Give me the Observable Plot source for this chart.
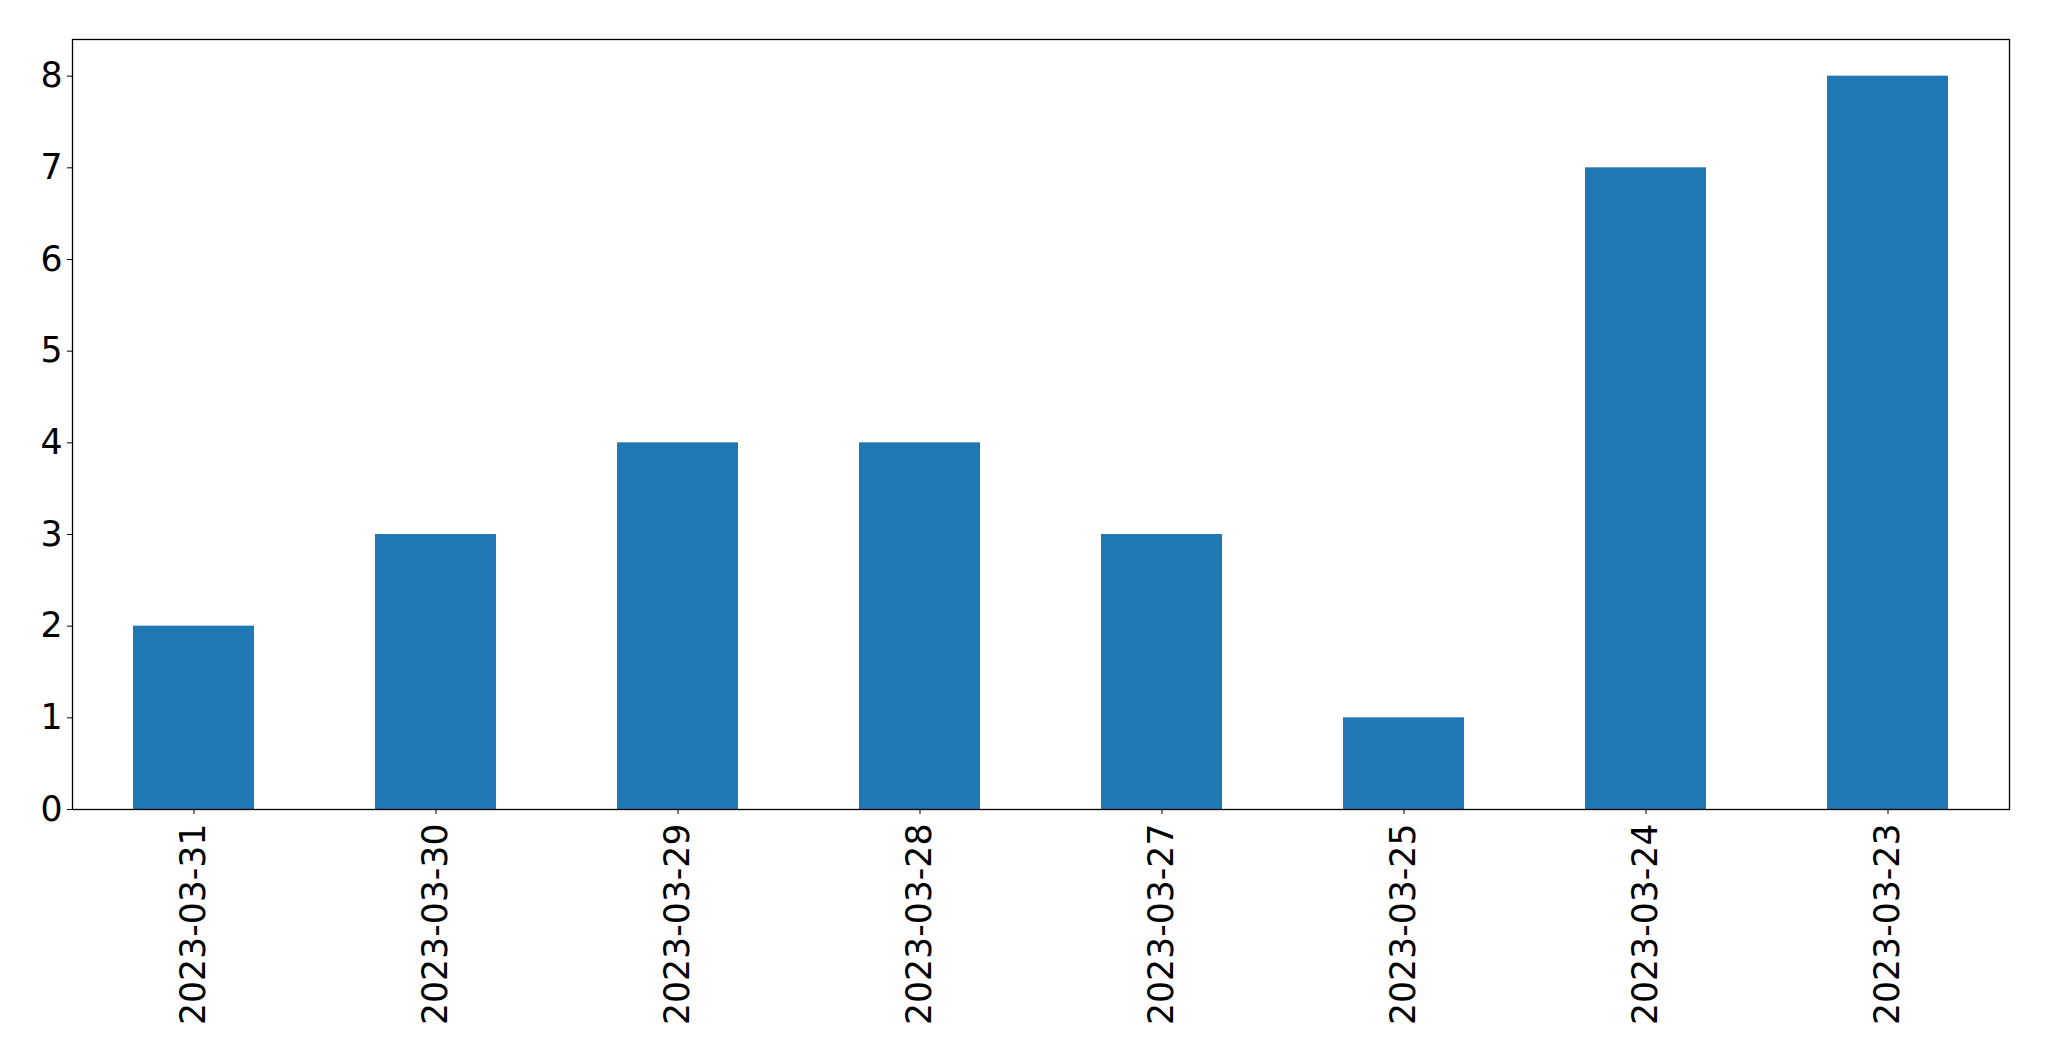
<!DOCTYPE html>
<html>
<head>
<meta charset="utf-8">
<script src="https://cdn.jsdelivr.net/npm/d3@7"></script>
<script src="https://cdn.jsdelivr.net/npm/@observablehq/plot@0.6"></script>
<style>
  html, body { margin: 0; padding: 0; background: #fff; }
  #chart svg { display: block; }
</style>
</head>
<body>
<div id="chart"></div>
<script>
const dates = ["2023-03-31", "2023-03-30", "2023-03-29", "2023-03-28", "2023-03-27", "2023-03-25", "2023-03-24", "2023-03-23"];
const counts = [2, 3, 4, 4, 3, 1, 7, 8];
const yTicks = [0, 1, 2, 3, 4, 5, 6, 7, 8];

const data = dates.map((d, i) => ({date: d, count: counts[i]}));

const chart = Plot.plot({
  width: 2049,
  height: 1061,
  marginLeft: 72,
  marginRight: 40,
  marginTop: 39,
  marginBottom: 252,
  style: {fontFamily: "DejaVu Sans", fontSize: "34.7px", color: "#000", background: "#fff"},
  x: {type: "band", domain: dates, paddingInner: 0.5, paddingOuter: 0.25, align: 0.5},
  y: {domain: [0, 8.4]},
  marks: [
    Plot.barY(data, {x: "date", y: "count", fill: "#1f77b4"}),
    Plot.frame({stroke: "#000", strokeWidth: 1.3}),
    Plot.axisY({ticks: yTicks, tickSize: 5, tickPadding: 5, label: null, fontSize: 34.7, tickFormat: d3.format("d")}),
    Plot.axisX({tickSize: 5, tickPadding: 9, tickRotate: -90, label: null, fontSize: 34.7})
  ]
});
document.getElementById("chart").appendChild(chart);
</script>
</body>
</html>
